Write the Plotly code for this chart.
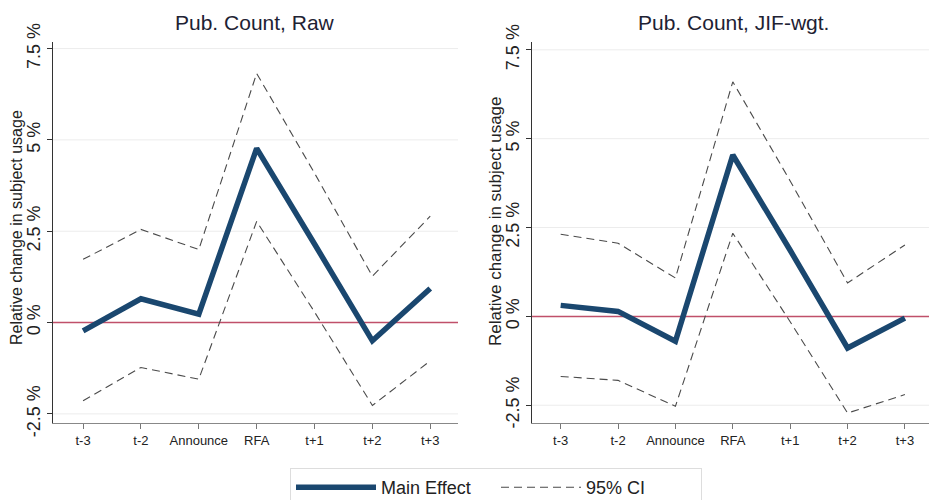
import plotly.graph_objects as go

categories = ["t-3", "t-2", "Announce", "RFA", "t+1", "t+2", "t+3"]

raw_main = [-0.23, 0.65, 0.23, 4.77, 2.15, -0.50, 0.93]
raw_upper = [1.73, 2.55, 2.00, 6.82, 4.09, 1.27, 2.91]
raw_lower = [-2.14, -1.23, -1.55, 2.77, 0.29, -2.27, -1.05]

jif_main = [0.31, 0.14, -0.70, 4.54, 1.86, -0.89, -0.05]
jif_upper = [2.31, 2.06, 1.08, 6.60, 3.81, 0.94, 2.01]
jif_lower = [-1.69, -1.80, -2.53, 2.34, -0.15, -2.72, -2.20]

ytick_vals = [-2.5, 0, 2.5, 5, 7.5]
ytick_text = ["-2.5 %", "0 %", "2.5 %", "5 %", "7.5 %"]

titles = ["Pub. Count, Raw", "Pub. Count, JIF-wgt."]
ytitle = "Relative change in subject usage"

MAIN_COLOR = "#1a476f"
CI_COLOR = "#4a4a4a"
FONT = "Liberation Sans, Arial, sans-serif"

fig = go.Figure()

panels = [
    (raw_main, raw_upper, raw_lower, "x", "y"),
    (jif_main, jif_upper, jif_lower, "x2", "y2"),
]
for i, (m, u, l, xa, ya) in enumerate(panels):
    fig.add_trace(go.Scatter(x=categories, y=u, mode="lines", xaxis=xa, yaxis=ya,
                             line=dict(color=CI_COLOR, width=1.1, dash="8px,5px"),
                             name="95% CI", legendgroup="ci", showlegend=(i == 0)))
    fig.add_trace(go.Scatter(x=categories, y=l, mode="lines", xaxis=xa, yaxis=ya,
                             line=dict(color=CI_COLOR, width=1.1, dash="8px,5px"),
                             name="95% CI", legendgroup="ci", showlegend=False))
    fig.add_trace(go.Scatter(x=categories, y=m, mode="lines", xaxis=xa, yaxis=ya,
                             line=dict(color=MAIN_COLOR, width=5.5),
                             name="Main Effect", legendgroup="main", showlegend=(i == 0)))

W, H = 930, 500
def fx(px):
    return px / W
def fy(py):
    return (H - py) / H

axis_common = dict(showgrid=False, zeroline=False, ticks="outside", ticklen=5,
                   tickcolor="#777", linecolor="#888", linewidth=1, showline=True,
                   automargin=False,
                   tickfont=dict(size=13, color="#222", family=FONT),
                   type="category", categoryorder="array", categoryarray=categories)
yaxis_common = dict(showgrid=False, zeroline=False,
                    ticks="outside", ticklen=5, tickcolor="#333", showline=True,
                    linecolor="#333", linewidth=1.2, automargin=False,
                    tickvals=ytick_vals, ticktext=ytick_text, tickangle=-90,
                    tickfont=dict(size=18, color="#222", family=FONT))

fig.update_layout(
    width=W, height=H,
    margin=dict(l=0, r=0, t=0, b=0, autoexpand=False),
    paper_bgcolor="white", plot_bgcolor="white",
    font=dict(family=FONT, color="#222"),
    xaxis=dict(domain=[fx(53), fx(458)], range=[-0.52, 6.48], anchor="y", **axis_common),
    xaxis2=dict(domain=[fx(532), fx(929)], range=[-0.5, 6.42], anchor="y2", **axis_common),
    yaxis=dict(domain=[fy(423), fy(42)], range=[-2.75, 7.68], anchor="x", **yaxis_common),
    yaxis2=dict(domain=[fy(423), fy(42)], range=[-3.0, 7.72], anchor="x2", **yaxis_common),
    legend=dict(orientation="h", x=fx(290), xanchor="left", y=fy(468), yanchor="top",
                bordercolor="#dddddd", borderwidth=1, bgcolor="white",
                font=dict(size=18, color="#222", family=FONT),
                traceorder="reversed", itemwidth=80, entrywidth=110),
    showlegend=True,
)

# light gridlines (below) and the reference line at zero
for xr, yr in [("x", "y"), ("x2", "y2")]:
    for v in ytick_vals:
        if v == 0:
            continue
        fig.add_shape(type="line", xref=f"{xr} domain", yref=yr, x0=0, x1=1, y0=v, y1=v,
                      line=dict(color="#ececec", width=1), layer="below")
    fig.add_shape(type="line", xref=f"{xr} domain", yref=yr, x0=0, x1=1, y0=0, y1=0,
                  line=dict(color="#c0506a", width=1.5), layer="below")

for t, cx in zip(titles, [fx(255), fx(733)]):
    fig.add_annotation(text=t, x=cx, y=fy(22), xref="paper", yref="paper",
                       showarrow=False, xanchor="center", yanchor="middle",
                       font=dict(size=21, color="#1e2233", family=FONT))

for cx, cy, sz in [(17, 228, 16), (496, 221, 17)]:
    fig.add_annotation(text=ytitle, x=fx(cx), y=fy(cy), xref="paper", yref="paper",
                       showarrow=False, xanchor="center", yanchor="middle", textangle=-90,
                       font=dict(size=sz, color="#222", family=FONT))

fig.write_html("out.html")
